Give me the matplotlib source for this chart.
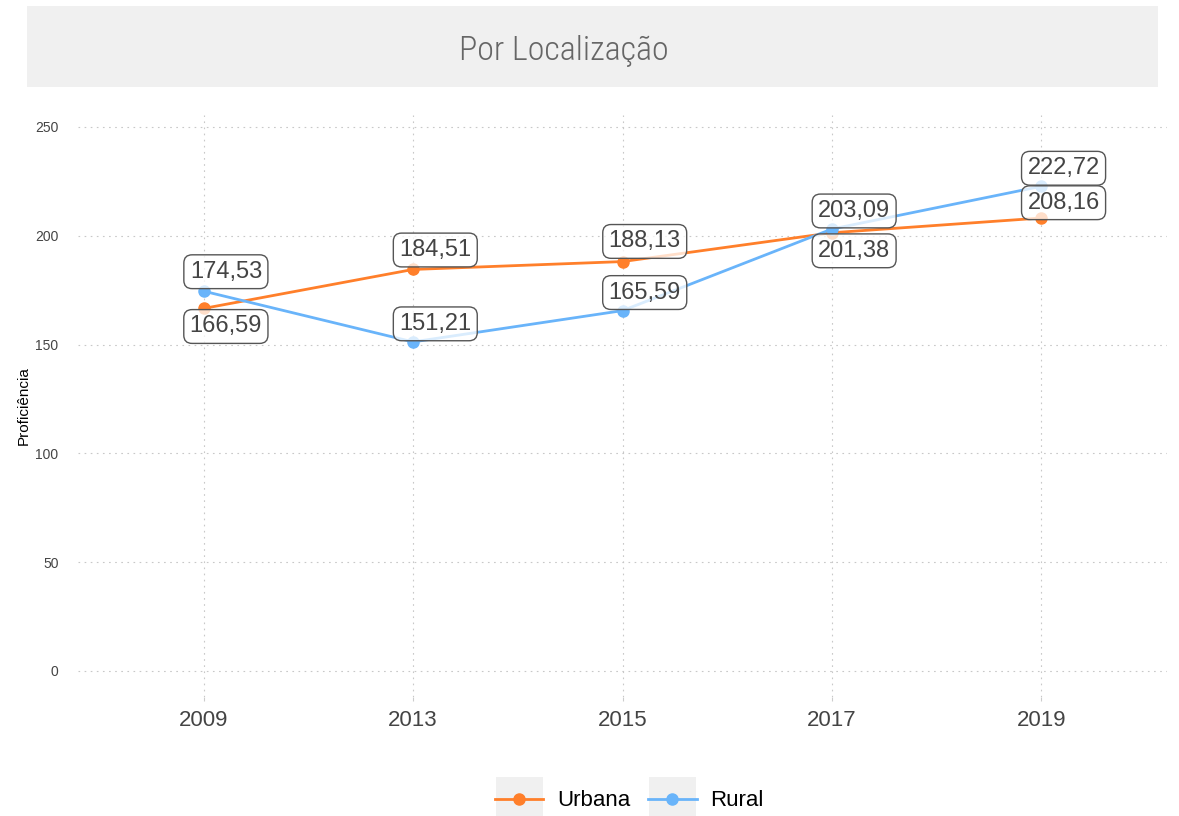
import matplotlib
matplotlib.use("Agg")
import matplotlib.pyplot as plt
from matplotlib.patches import Rectangle
from matplotlib.lines import Line2D

# data
anos = ["2009", "2013", "2015", "2017", "2019"]
urbana = [166.59, 184.51, 188.13, 201.38, 208.16]
rural = [174.53, 151.21, 165.59, 203.09, 222.72]
y_ticks = [0, 50, 100, 150, 200, 250]

# label offsets (points) above / below each point, like ggrepel placed them
urbana_dy = [13, -14, -14.5, 13, -11]
rural_dy = [-14, -13, -13, -13, -13]

cor_urbana = "#FF7F2A"
cor_rural = "#69B4FA"
txt = "#444444"
sans = ["Liberation Sans", "DejaVu Sans"]
narrow = ["Roboto Condensed", "Barlow Condensed", "Asap Condensed", "DejaVu Sans"]

plt.rcParams["font.family"] = sans

W, H = 1179, 816
fig = plt.figure(figsize=(W / 100, H / 100), dpi=100)

# title band
fig.patches.append(Rectangle((27 / W, 1 - 87 / H), (1158 - 27) / W, 81 / H,
                             transform=fig.transFigure, facecolor="#f0f0f0",
                             edgecolor="none", zorder=0))
fig.text(564 / W, 1 - 51 / H, "Por Localização", ha="center", va="center",
         fontsize=24.5, color="#666666", family=narrow, fontweight="light")

ax = fig.add_axes([78 / W, 1 - 697 / H, (1167 - 78) / W, (697 - 115) / H])
x = list(range(1, len(anos) + 1))

ax.plot(x, urbana, color=cor_urbana, lw=2, marker="o", ms=8, zorder=3)
ax.plot(x, rural, color=cor_rural, lw=2, marker="o", ms=8, zorder=3)

def fmt(v):
    return f"{v:.2f}".replace(".", ",")

for serie, dys in ((urbana, urbana_dy), (rural, rural_dy)):
    for xi, v, dy in zip(x, serie, dys):
        ax.annotate(fmt(v), (xi, v), xytext=(16, -dy), textcoords="offset points",
                    ha="center", va="center", fontsize=17, color=txt, zorder=5,
                    bbox=dict(boxstyle="round,pad=0.25,rounding_size=0.35",
                              fc=(1, 1, 1, 0.75), ec="#555555", lw=1))

ax.set_xlim(0.4, len(anos) + 0.6)
ax.set_ylim(-12, 255.5)
ax.set_xticks(x)
ax.set_xticklabels(anos, fontsize=16, color=txt)
ax.set_yticks(y_ticks)
ax.set_yticklabels([str(t) for t in y_ticks], fontsize=10, color=txt)
ax.tick_params(axis="x", length=3, color="#cccccc", pad=6)
ax.tick_params(axis="y", length=0, pad=14)
ax.set_ylabel("Proficiência", fontsize=11, color="black", labelpad=3)
ax.grid(True, color="#c8c8c8", linestyle=(0, (1.5, 4)), lw=0.8)
ax.set_axisbelow(True)
for s in ax.spines.values():
    s.set_visible(False)

handles = [Line2D([], [], color=cor_urbana, lw=2, marker="o", ms=8),
           Line2D([], [], color=cor_rural, lw=2, marker="o", ms=8)]
leg = fig.legend(handles, ["Urbana", "Rural"], loc="center", ncol=2,
                 bbox_to_anchor=(629 / W, 1 - 801 / H), frameon=False,
                 fontsize=16, handlelength=2.2, handletextpad=0.6,
                 columnspacing=0.8)

# grey key backgrounds behind the legend symbols
fig.canvas.draw()
r = fig.canvas.get_renderer()
for h in leg.legend_handles:
    bb = h.get_window_extent(r)
    cx = (bb.x0 + bb.x1) / 2
    cy = (bb.y0 + bb.y1) / 2
    fig.patches.append(Rectangle(((cx - 23.5) / W, (cy - 22) / H), 47 / W, 44 / H,
                                 transform=fig.transFigure, facecolor="#f0f0f0",
                                 edgecolor="none", zorder=0))

fig.savefig("out.png", dpi=100)
